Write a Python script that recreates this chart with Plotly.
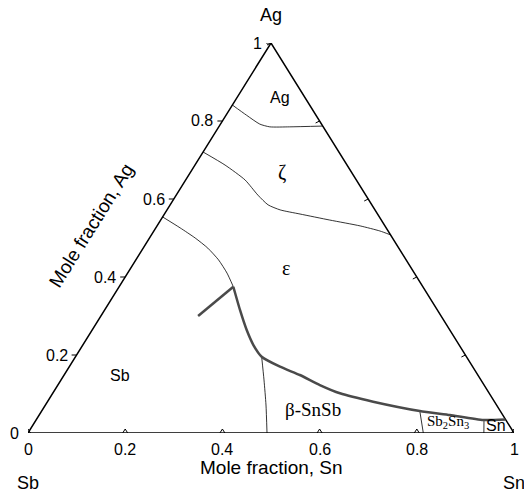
import plotly.graph_objects as go

# ---------------- data (compositions: mole fraction Sn, mole fraction Ag) ----------------
ag_bound_sn = [0.0, 0.042, 0.081, 0.105, 0.146, 0.213]
ag_bound_ag = [0.841, 0.815, 0.792, 0.785, 0.785, 0.787]

zeta_bound_sn = [0.0, 0.062, 0.122, 0.168, 0.2015, 0.233, 0.279, 0.348, 0.418, 0.465, 0.492]
zeta_bound_ag = [0.7205, 0.687, 0.649, 0.610, 0.585, 0.572, 0.5615, 0.546, 0.531, 0.518, 0.508]

eps_bound_sn = [0.0, 0.050, 0.094, 0.133, 0.170, 0.2045, 0.235]
eps_bound_ag = [0.554, 0.526, 0.500, 0.474, 0.444, 0.410, 0.375]

# thick boundary: short arm, then main curve from the junction
arm_sn = [0.200, 0.235]
arm_ag = [0.300, 0.375]
thick_sn = [0.235, 0.2785, 0.318, 0.351, 0.383, 0.4335, 0.485, 0.539, 0.591, 0.670, 0.778, 0.845, 0.920, 0.965]
thick_ag = [0.375, 0.3154, 0.264, 0.2256, 0.1956, 0.170, 0.1487, 0.123, 0.1018, 0.0803, 0.0564, 0.0462, 0.0333, 0.0346]

beta_bound_sn = [0.383, 0.4176, 0.4538, 0.4918]
beta_bound_ag = [0.1956, 0.136, 0.0718, 0.0]

sb2sn3_bound_sn = [0.778, 0.8134]
sb2sn3_bound_ag = [0.0564, 0.0]

sn_bound_sn = [0.9216, 0.938]
sn_bound_ag = [0.0333, 0.0]

region_labels = ["Ag", "ζ", "ε", "Sb", "β-SnSb", "Sb<sub>2</sub>Sn<sub>3</sub>", "Sn"]
region_sn = [0.088, 0.188, 0.319, 0.115, 0.557, 0.851, 0.954]
region_ag = [0.8615, 0.669, 0.423, 0.1487, 0.059, 0.028, 0.018]

ag_ticks = [0, 0.2, 0.4, 0.6, 0.8, 1]
sn_ticks = [0, 0.2, 0.4, 0.6, 0.8, 1]
tick_text = ["0", "0.2", "0.4", "0.6", "0.8", "1"]

corner_names = ["Sb", "Sn", "Ag"]
corner_sn = [0, 1, 0, 0]
corner_ag = [0, 0, 1, 0]

# ---------------- styles ----------------
SANS = "Liberation Sans, Arial, sans-serif"
SERIF = "Liberation Serif, Times New Roman, serif"
region_fonts = [SANS, SERIF, SERIF, SANS, SERIF, SERIF, SANS]
region_sizes = [16, 20, 20, 16, 19, 15, 16]

W_PX, H_PX = 486.0, 390.0  # plot area size in pixels
PX = 1.0 / W_PX
PY = 1.0 / H_PX


def to_xy(sn, ag):
    xs = [s + a / 2.0 for s, a in zip(sn, ag)]
    return xs, list(ag)


fig = go.Figure()

# triangle frame
fx, fy = to_xy(corner_sn, corner_ag)
fig.add_trace(go.Scatter(x=fx, y=fy, mode="lines", line=dict(color="black", width=1.5),
                         hoverinfo="skip", showlegend=False))

# thin boundaries
for sn, ag in [(ag_bound_sn, ag_bound_ag), (zeta_bound_sn, zeta_bound_ag),
               (eps_bound_sn, eps_bound_ag), (beta_bound_sn, beta_bound_ag),
               (sb2sn3_bound_sn, sb2sn3_bound_ag), (sn_bound_sn, sn_bound_ag)]:
    x, y = to_xy(sn, ag)
    fig.add_trace(go.Scatter(x=x, y=y, mode="lines",
                             line=dict(color="black", width=0.8, shape="spline", smoothing=0.6),
                             hoverinfo="skip", showlegend=False))

# thick boundary
x, y = to_xy(arm_sn, arm_ag)
fig.add_trace(go.Scatter(x=x, y=y, mode="lines", line=dict(color="#4a4a4a", width=2.5),
                         hoverinfo="skip", showlegend=False))
x, y = to_xy(thick_sn, thick_ag)
fig.add_trace(go.Scatter(x=x, y=y, mode="lines",
                         line=dict(color="#4a4a4a", width=2.5, shape="spline", smoothing=0.5),
                         hoverinfo="skip", showlegend=False))

# ticks
tx, ty = [], []
for v in ag_ticks:
    ex, ey = v / 2.0, v
    tx += [ex, ex - 5 * PX, None]
    ty += [ey, ey, None]
    rx, ry = 1 - v / 2.0, v
    tx += [rx, rx - 4 * PX, None]
    ty += [ry, ry - 2 * PY, None]
for v in sn_ticks:
    tx += [v - 2.5 * PX, v, v + 2.5 * PX, None]
    ty += [0, 4 * PY, 0, None]
fig.add_trace(go.Scatter(x=tx, y=ty, mode="lines", line=dict(color="black", width=1),
                         hoverinfo="skip", showlegend=False, cliponaxis=False))

annotations = []
# left tick labels (paper coords == axis coords, since ranges are [0, 1])
for v, t in zip(ag_ticks, tick_text):
    annotations.append(dict(x=v / 2.0 - 7 * PX, y=v, xref="paper", yref="paper", text=t, showarrow=False,
                            xanchor="right", yanchor="middle", font=dict(family=SANS, size=16, color="black")))
# bottom tick labels
for v, t in zip(sn_ticks, tick_text):
    annotations.append(dict(x=v, y=-16 * PY, xref="paper", yref="paper", text=t, showarrow=False,
                            xanchor="center", yanchor="middle", font=dict(family=SANS, size=16, color="black")))
# region labels
rx, ry = to_xy(region_sn, region_ag)
for t, x0, y0, fam, sz in zip(region_labels, rx, ry, region_fonts, region_sizes):
    annotations.append(dict(x=x0, y=y0, xref="paper", yref="paper", text=t, showarrow=False,
                            xanchor="center", yanchor="middle",
                            font=dict(family=fam, size=sz, color="black")))
# corner names (placed at the corners, offset outward)
cx, cy = to_xy(corner_sn[:3], corner_ag[:3])
offsets = [-50 * PY, -50 * PY, 28 * PY]
for name, x0, y0, dy in zip(corner_names, cx, cy, offsets):
    annotations.append(dict(x=x0, y=y0 + dy, xref="paper", yref="paper", text=name, showarrow=False,
                            xanchor="center", yanchor="middle", font=dict(family=SANS, size=18, color="black")))
# axis titles
annotations += [
    dict(x=0.5, y=-35 * PY, xref="paper", yref="paper", text="Mole fraction, Sn", showarrow=False,
         xanchor="center", yanchor="middle", font=dict(family=SANS, size=19, color="black")),
    dict(x=63 * PX, y=208 * PY, xref="paper", yref="paper", text="Mole fraction, Ag", showarrow=False,
         textangle=-58, xanchor="center", yanchor="middle", font=dict(family=SANS, size=19, color="black")),
]

fig.update_layout(
    width=524, height=497,
    margin=dict(l=28, r=10, t=43, b=64),
    paper_bgcolor="white", plot_bgcolor="white",
    xaxis=dict(range=[0, 1], visible=False, fixedrange=True),
    yaxis=dict(range=[0, 1], visible=False, fixedrange=True),
    annotations=annotations,
    showlegend=False,
)

fig.write_html("out.html")
